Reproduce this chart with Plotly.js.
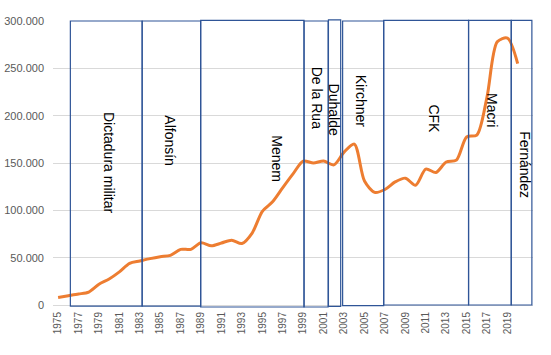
<!DOCTYPE html>
<html>
<head>
<meta charset="utf-8">
<script src="https://cdn.plot.ly/plotly-3.0.1.min.js"></script>
<style>
html,body{margin:0;padding:0;background:#fff;}
#chart{width:551px;height:355px;}
</style>
</head>
<body>
<div id="chart"></div>
<script>
var years = [1975,1976,1977,1978,1979,1980,1981,1982,1983,1984,1985,1986,1987,1988,1989,1990,1991,1992,1993,1994,1995,1996,1997,1998,1999,2000,2001,2002,2003,2004,2005,2006,2007,2008,2009,2010,2011,2012,2013,2014,2015,2016,2017,2018,2019,2020];
var values = [8000,9800,11600,13700,22000,27500,35000,44000,46500,49000,51000,52500,58800,58800,65800,62500,65500,68500,65000,76000,99000,109000,124000,138500,152000,150000,152000,148000,161500,170000,131000,119000,122000,130000,134000,126500,143500,140000,151000,153000,177500,179500,220000,278000,282000,255000];
var tickYears = [1975,1977,1979,1981,1983,1985,1987,1989,1991,1993,1995,1997,1999,2001,2003,2005,2007,2009,2011,2013,2015,2017,2019];
var tickLabels = ["1975","1977","1979","1981","1983","1985","1987","1989","1991","1993","1995","1997","1999","2001","2003","2005","2007","2009","2011","2013","2015","2017","2019"];
var periods = ["Dictadura militar","Alfonsín","Menem","De la Rua","Duhalde","Kirchner","CFK","Macri","Fernández"];
var yTicks = [0,50000,100000,150000,200000,250000,300000];

// layout geometry (box edges in year units, label centres)
var boxes = [
  [1976.2, 1983.23, -0.004, 1.0],
  [1983.23, 1988.96, -0.004, 1.0],
  [1988.96, 1999.08, -0.007, 1.002],
  [1999.08, 2001.44, -0.007, 1.0],
  [2001.47, 2002.67, -0.005, 1.004],
  [2002.86, 2006.88, -0.002, 1.0],
  [2006.88, 2015.19, 0.0, 1.002],
  [2015.19, 2019.37, 0.0, 1.002],
  [2019.37, 2021.39, 0.0, 1.002]
];
var labelPos = [
  [1980.05, 150400],
  [1985.95, 173000],
  [1996.43, 154000],
  [2000.35, 219000],
  [2001.98, 206800],
  [2004.6, 215300],
  [2011.78, 196300],
  [2017.5, 205800],
  [2020.76, 148300]
];

var shapes = boxes.map(function(b){
  return {type:'rect', xref:'x', yref:'paper', x0:b[0], x1:b[1], y0:b[2], y1:b[3],
    line:{color:'#2F5597', width:1.2}, fillcolor:'rgba(0,0,0,0)', layer:'above'};
});
var annotations = periods.map(function(p,i){
  return {x:labelPos[i][0], y:labelPos[i][1], xref:'x', yref:'y', text:p, showarrow:false,
    textangle:90, font:{family:'Liberation Sans, Arial, sans-serif', size:14, color:'#000000'},
    xanchor:'center', yanchor:'middle'};
});

var trace = {
  x: years, y: values, type:'scatter', mode:'lines',
  line:{color:'#ED7D31', width:3, shape:'spline', smoothing:0.8},
  hoverinfo:'skip'
};

var layout = {
  width:551, height:355,
  margin:{l:53, r:18, t:21, b:50, pad:0},
  paper_bgcolor:'#ffffff', plot_bgcolor:'#ffffff',
  showlegend:false,
  separators:',.',
  font:{family:'Liberation Sans, Arial, sans-serif', color:'#595959'},
  xaxis:{
    range:[1974.5, 2021.5], tickmode:'array', tickvals:tickYears, ticktext:tickLabels,
    tickangle:-90, tickfont:{size:10, color:'#595959'}, showgrid:false, zeroline:false,
    showline:false, ticks:'', ticklabelstandoff:4, fixedrange:true
  },
  yaxis:{
    range:[0, 300000], tickmode:'array', tickvals:yTicks, tickformat:',d',
    tickfont:{size:11, color:'#595959'}, showgrid:true, gridcolor:'#d9d9d9', gridwidth:1,
    zeroline:true, zerolinecolor:'#d9d9d9', zerolinewidth:1, showline:false, ticks:'',
    ticklabelstandoff:8, fixedrange:true
  },
  shapes: shapes,
  annotations: annotations
};

Plotly.newPlot('chart', [trace], layout, {staticPlot:true, displayModeBar:false});
</script>
</body>
</html>
